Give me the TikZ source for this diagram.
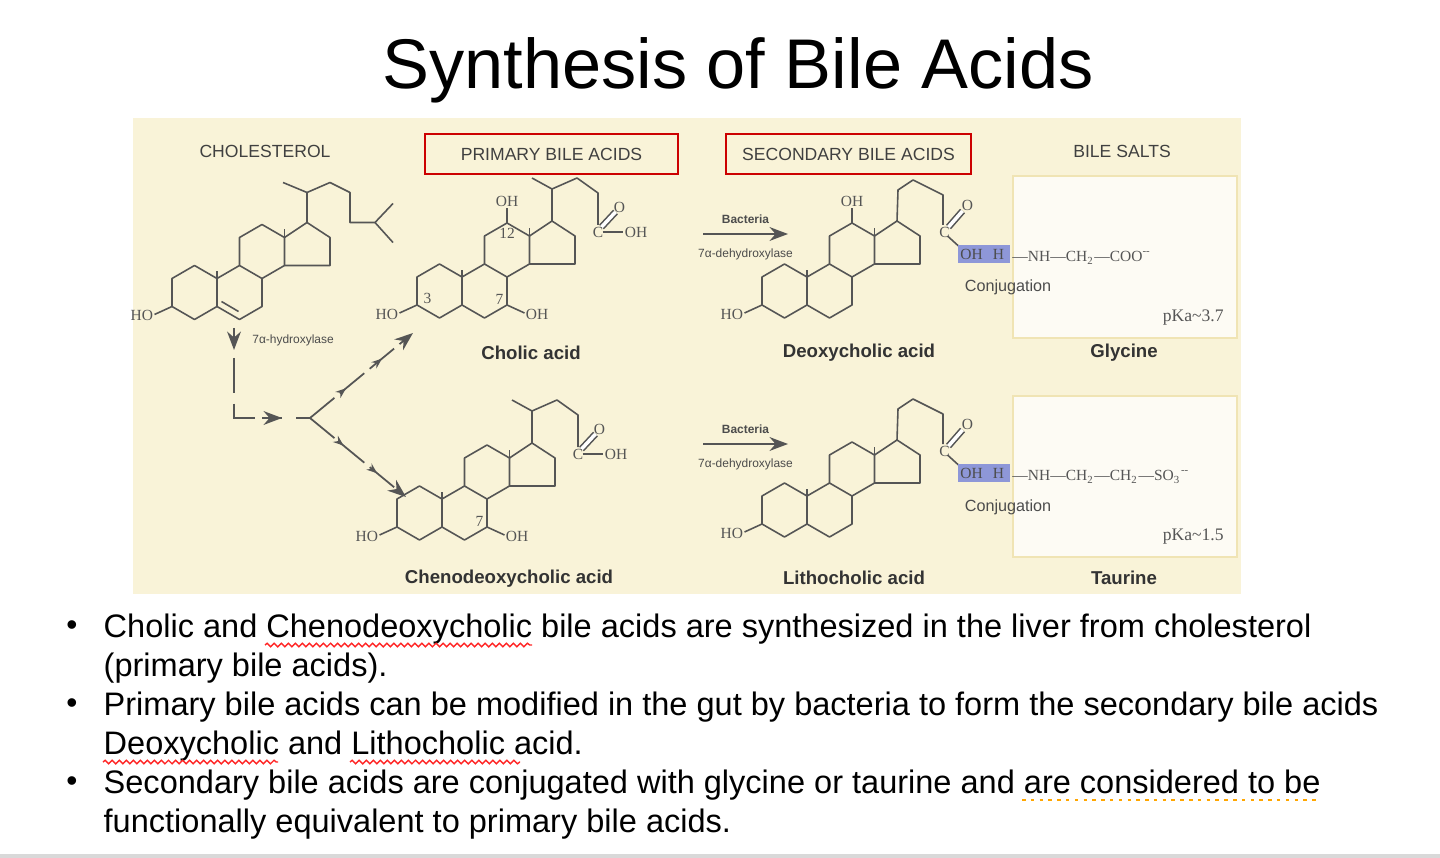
\documentclass[tikz,border=0pt]{standalone}
\usepackage{fontspec}
\setmainfont{Liberation Sans}
\newfontfamily\chemfont{Liberation Serif}
\usetikzlibrary{positioning,arrows.meta,decorations.markings,decorations.pathmorphing}

\definecolor{tanbg}{HTML}{F9F3D8}
\definecolor{boxbg}{HTML}{FDFBF4}
\definecolor{boxline}{HTML}{F0E4B4}
\definecolor{conjblue}{HTML}{8E97D8}
\definecolor{bondgray}{HTML}{555555}

% steroid skeleton, ring A centred at #1
\newcommand{\sterolcore}[1]{%
  \begin{scope}[shift={#1}]
    \draw[bond] (-22.5,-14) -- (0,-27) -- (22.5,-14) -- (22.5,14) -- (0,27) -- (-22.5,14) -- cycle;
    \draw[bond] (22.5,-14) -- (45,-27) -- (67.5,-14) -- (67.5,14) -- (45,27) -- (22.5,14);
    \draw[bond] (45,-27) -- (45,-55) -- (67.5,-68) -- (90,-55) -- (90,-27) -- (67.5,-14);
    \draw[bond] (90,-55) -- (112.5,-70) -- (135.5,-55) -- (135.5,-27) -- (90,-27);
    \draw[bond] (22.5,-14) -- (22.5,-21);
    \draw[bond] (90,-55) -- (90,-63);
    \draw[bond] (-22.5,14) -- (-40,22);
    \node[chem, anchor=east] at (-39,23) {HO};
  \end{scope}}

\begin{document}
\begin{tikzpicture}
  [x=0.01cm, y=-0.01cm, >=Stealth,
    bond/.style={draw=bondgray, line width=0.45pt, line join=round},
    chem/.style={font=\chemfont\fontsize{4.4}{4.4}\selectfont, text=bondgray, inner sep=0.5pt},
    head/.style={font=\fontsize{5}{6}\selectfont, text=black!75},
    acidname/.style={font=\bfseries\fontsize{5.3}{6}\selectfont, text=black!80},
    enzyme/.style={font=\fontsize{3.4}{4}\selectfont, text=black!70},
    redbox/.style={draw=red!80!black, line width=0.8pt, minimum width=253*0.01cm, minimum height=40*0.01cm},
    saltbox/.style={draw=boxline, fill=boxbg, line width=0.6pt},
    route/.style={draw=bondgray, line width=0.5pt, dash pattern=on 9pt off 2pt,
      postaction={decorate, decoration={markings,
        mark=at position 0.35 with {\arrow{Stealth[length=3pt]}},
        mark=at position 0.7 with {\arrow{Stealth[length=3pt]}}}}},
    bullet/.style={font=\fontsize{9.25}{11}\selectfont, anchor=base west, inner sep=0pt},
    spell/.style={draw=red!85, line width=0.4pt, decorate,
      decoration={snake, amplitude=0.5pt, segment length=2pt}},
  ]
  \useasboundingbox (0,0) rectangle (1440,858);
  \fill[white] (0,0) rectangle (1440,858);
  \draw[black!15, line width=1pt] (0,856) -- (1440,856);

  % title
  \node[font=\fontsize{20}{24}\selectfont] (title) at (738,70) {Synthesis of Bile Acids};

  % panel
  \fill[tanbg] (133,118) rectangle (1241,594);
  \node[head] (hchol) at (265,151) {CHOLESTEROL};
  \node[redbox, head] (hprim) at (551.5,154) {PRIMARY BILE ACIDS};
  \node[redbox, head, minimum width=245*0.01cm] (hsec) at (848.5,154) {SECONDARY BILE ACIDS};
  \node[head] (hsalt) at (1122,151) {BILE SALTS};

  \filldraw[saltbox] (1013,176) rectangle (1237,338);
  \filldraw[saltbox] (1013,396) rectangle (1237,557);

  % cholesterol
  \sterolcore{(194.5,292.5)}
  \begin{scope}[shift={(194.5,292.5)}]
    \draw[bond] (27,9) -- (44,19);
    \draw[bond] (112.5,-70) -- (112.5,-100) -- (88.5,-110);
    \draw[bond] (112.5,-100) -- (135.5,-110) -- (155.5,-100) -- (155.5,-70) -- (180.5,-70) -- (198.5,-89);
    \draw[bond] (180.5,-70) -- (198.5,-50);
  \end{scope}

  % cholic acid
  \sterolcore{(439.5,291)}
  \begin{scope}[shift={(439.5,291)}]
    \draw[bond] (67.5,14) -- (85,22);
    \node[chem, anchor=west] at (84,23) {OH};
    \node[chem] at (-12,7) {3};
    \node[chem] at (60,8) {7};
    \draw[bond] (67.5,-68) -- (67.5,-83);
    \node[chem] at (67.5,-90) {OH};
    \node[chem] at (67.5,-58) {12};
    \draw[bond] (112.5,-70) -- (112.5,-102) -- (92.5,-113);
    \draw[bond] (112.5,-102) -- (137.5,-113) -- (158.5,-98) -- (158.5,-66);
    \node[chem] at (158.5,-59) {C};
    \draw[bond, double, double distance=1pt] (162,-64) -- (176,-79);
    \node[chem] at (180,-84) {O};
    \draw[bond] (163,-59) -- (183,-59);
    \node[chem, anchor=west] at (183,-59) {OH};
  \end{scope}

  % chenodeoxycholic acid
  \sterolcore{(419.5,513)}
  \begin{scope}[shift={(419.5,513)}]
    \draw[bond] (67.5,14) -- (85,22);
    \node[chem, anchor=west] at (84,23) {OH};
    \node[chem] at (60,8) {7};
    \draw[bond] (112.5,-70) -- (112.5,-102) -- (92.5,-113);
    \draw[bond] (112.5,-102) -- (137.5,-113) -- (158.5,-98) -- (158.5,-66);
    \node[chem] at (158.5,-59) {C};
    \draw[bond, double, double distance=1pt] (162,-64) -- (176,-79);
    \node[chem] at (180,-84) {O};
    \draw[bond] (163,-59) -- (183,-59);
    \node[chem, anchor=west] at (183,-59) {OH};
  \end{scope}

  % deoxycholic and lithocholic acid
  \foreach \cx/\cy/\ohtw in {784.5/291/1, 784.5/510/0}{
    \sterolcore{(\cx,\cy)}
    \begin{scope}[shift={(\cx,\cy)}]
      \ifnum\ohtw=1
        \draw[bond] (67.5,-68) -- (67.5,-83);
        \node[chem] at (67.5,-90) {OH};
      \fi
      \draw[bond] (112.5,-70) -- (113.5,-101) -- (128.5,-111) -- (158.5,-96) -- (158.5,-66);
      \node[chem] at (160,-59) {C};
      \draw[bond, double, double distance=1pt] (164,-64) -- (178,-80);
      \node[chem] at (183,-86) {O};
      \draw[bond] (163,-55) -- (174,-45);
      \fill[conjblue] (173.5,-46) rectangle (225.5,-28);
      \node[chem, text=black!70] at (187,-37) {OH};
      \node[chem, text=black!70] at (214,-37) {H};
    \end{scope}
  }
  \node[chem, anchor=west] (gly) at (1010,258)
    {\textemdash NH\textemdash CH\textsubscript{2}\textemdash COO\textsuperscript{--}};
  \node[chem, anchor=west] (tau) at (1010,477)
    {\textemdash NH\textemdash CH\textsubscript{2}\textemdash CH\textsubscript{2}\textemdash SO\textsubscript{3}\textsuperscript{--}};
  \node[font=\fontsize{4.6}{5}\selectfont, text=black!70] (conj1) at (1008,287) {Conjugation};
  \node[font=\fontsize{4.6}{5}\selectfont, text=black!70] (conj2) at (1008,507) {Conjugation};
  \node[chem, font=\chemfont\fontsize{5}{5}\selectfont, anchor=east] (pka1) at (1226,318) {pKa\textasciitilde3.7};
  \node[chem, font=\chemfont\fontsize{5}{5}\selectfont, anchor=east] (pka2) at (1226,537) {pKa\textasciitilde1.5};

  % names
  \node[acidname] (ncholic) at (531,353) {Cholic acid};
  \node[acidname] (ndeoxy) at (859,353) {Deoxycholic acid};
  \node[acidname] (ngly) at (1124,353) {Glycine};
  \node[acidname] (ncheno) at (509,579) {Chenodeoxycholic acid};
  \node[acidname] (nlitho) at (854,578) {Lithocholic acid};
  \node[acidname] (ntau) at (1124,578) {Taurine};

  % bacterial conversion
  \coordinate (b1s) at (703,234);
  \coordinate (b1e) at (788,234);
  \coordinate (b2s) at (703,444);
  \coordinate (b2e) at (788,444);
  \draw[->, bondgray, line width=0.5pt] (b1s) -- (b1e)
    node[midway, above=-0.5pt, enzyme, font=\bfseries\fontsize{3.4}{4}\selectfont] {Bacteria}
    node[midway, below=0.5pt, enzyme] {7α-dehydroxylase};
  \draw[->, bondgray, line width=0.5pt] (b2s) -- (b2e)
    node[midway, above=-0.5pt, enzyme, font=\bfseries\fontsize{3.4}{4}\selectfont] {Bacteria}
    node[midway, below=0.5pt, enzyme] {7α-dehydroxylase};

  % pathway from cholesterol
  \coordinate (p0) at (234,328);
  \coordinate (p1) at (234,418);
  \coordinate (p2) at (282,418);
  \coordinate (fork) at (310,418);
  \coordinate (toCholic) at (413,333);
  \coordinate (toCheno) at (406,497);
  \draw[->, bondgray, line width=0.5pt] (p0) -- ++(0,22);
  \node[enzyme, anchor=west] (hydrox) at (240,340) {7α-hydroxylase};
  \draw[bondgray, line width=0.5pt, dash pattern=on 10pt off 3pt] (234,358) -- (p1) -- (p2);
  \draw[->, bondgray, line width=0.5pt] (262,418) -- (p2);
  \draw[bondgray, line width=0.5pt] (296,418) -- (fork);
  \draw[route, ->] (fork) -- (toCholic);
  \draw[route, ->] (fork) -- (toCheno);

  % bullets
  \foreach \yy in {628,706,784}
    \node[font=\fontsize{9}{11}\selectfont] at (72,\yy) {\textbullet};
  \node[bullet] (l1) at (103,637) {Cholic and Chenodeoxycholic bile acids are synthesized in the liver from cholesterol};
  \node[bullet] (l2) at (103,676) {(primary bile acids).};
  \node[bullet] (l3) at (103,715) {Primary bile acids can be modified in the gut by bacteria to form the secondary bile acids};
  \node[bullet] (l4) at (103,754) {Deoxycholic and Lithocholic acid.};
  \node[bullet] (l5) at (103,793) {Secondary bile acids are conjugated with glycine or taurine and are considered to be};
  \node[bullet] (l6) at (103,832) {functionally equivalent to primary bile acids.};
  \draw[spell] (265,645) -- (532,645);
  \draw[spell] (103,762) -- (278,762);
  \draw[spell] (350,762) -- (520,762);
  \draw[draw=orange!70!yellow, line width=0.8pt, dash pattern=on 1pt off 1.5pt] (1022,800) -- (1318,800);
\end{tikzpicture}
\end{document}
